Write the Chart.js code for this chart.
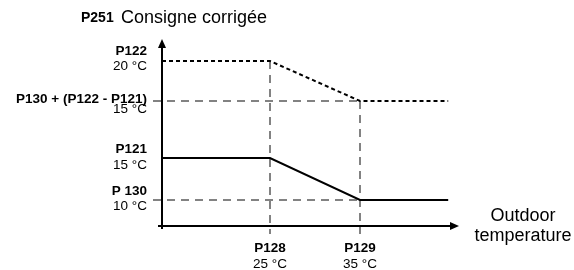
<!DOCTYPE html>
<html>
<head>
<meta charset="utf-8">
<script src="https://cdn.jsdelivr.net/npm/chart.js@4/dist/chart.umd.min.js"></script>
<style>
  body { margin: 0; background: #fff; }
  #wrap { width: 574px; height: 270px; position: relative; }
</style>
</head>
<body>
<div id="wrap"><canvas id="myChart"></canvas></div>
<script>
// outdoor temperature (°C) along x, schematic height along y
const outdoorTemps = [13, 25, 35, 44.8];
const correctedSetpoint = [165, 165, 125, 125];   // P251 dotted curve
const baseSetpoint = [68, 68, 26, 26];            // solid curve

const xMarks = [25, 35];
const xMarkNames = ['P128', 'P129'];
const xMarkTemps = ['25 °C', '35 °C'];

const yMarks = [165, 125, 68, 26];
const yMarkNames = ['P122', 'P130 + (P122 - P121)', 'P121', 'P 130'];
const yMarkTemps = ['20 °C', '15 °C', '15 °C', '10 °C'];

const xMin = 13, xMax = 46;
const yMin = 0, yMax = 187;

const FONT = 'Liberation Sans, Arial, sans-serif';
const guideColor = '#5a5a5a';

const toPoints = (xs, ys) => xs.map((x, i) => ({x: x, y: ys[i]}));

// dashed guide lines
const guides = [
    [{x: 12, y: 125}, {x: 35, y: 125}],
    [{x: 12, y: 26}, {x: 35, y: 26}],
    [{x: 25, y: 165}, {x: 25, y: -8}],
    [{x: 35, y: 125}, {x: 35, y: -8}]
];

const guideSets = guides.map(pts => ({
    data: pts,
    borderColor: guideColor,
    borderWidth: 1.5,
    borderDash: [8, 6],
    pointRadius: 0,
    clip: false,
    order: 3
}));

// axes with arrows + text labels
const diagram = {
    id: 'diagram',
    afterDatasetsDraw(chart) {
        const ctx = chart.ctx;
        const xs = chart.scales.x, ys = chart.scales.y;
        const x0 = xs.getPixelForValue(xMin), x1 = xs.getPixelForValue(xMax);
        const y0 = ys.getPixelForValue(yMin), y1 = ys.getPixelForValue(yMax);
        ctx.save();
        ctx.strokeStyle = '#000';
        ctx.fillStyle = '#000';
        ctx.lineWidth = 2;
        ctx.beginPath();
        ctx.moveTo(x0, y0 + 3);
        ctx.lineTo(x0, y1 + 6);
        ctx.moveTo(x0 - 4, y0);
        ctx.lineTo(x1 - 6, y0);
        ctx.stroke();
        // arrowheads
        ctx.beginPath();
        ctx.moveTo(x0, y1);
        ctx.lineTo(x0 - 4, y1 + 9);
        ctx.lineTo(x0 + 4, y1 + 9);
        ctx.closePath();
        ctx.fill();
        ctx.beginPath();
        ctx.moveTo(x1, y0);
        ctx.lineTo(x1 - 9, y0 - 4);
        ctx.lineTo(x1 - 9, y0 + 4);
        ctx.closePath();
        ctx.fill();

        ctx.fillStyle = '#000';
        ctx.textBaseline = 'middle';
        // y labels
        const nameOff = [-10, -2, -9, -9];
        const tempOff = [5, 8, 7, 6];
        ctx.textAlign = 'right';
        yMarks.forEach((v, i) => {
            const py = ys.getPixelForValue(v);
            ctx.font = 'bold 13.5px ' + FONT;
            ctx.fillText(yMarkNames[i], x0 - 15, py + nameOff[i]);
            ctx.font = '13.5px ' + FONT;
            ctx.fillText(yMarkTemps[i], x0 - 15, py + tempOff[i]);
        });
        // x labels
        ctx.textAlign = 'center';
        xMarks.forEach((v, i) => {
            const px = xs.getPixelForValue(v);
            ctx.font = 'bold 13.5px ' + FONT;
            ctx.fillText(xMarkNames[i], px, 248);
            ctx.font = '13.5px ' + FONT;
            ctx.fillText(xMarkTemps[i], px, 264);
        });
        // axis titles
        ctx.font = '18px ' + FONT;
        ctx.fillText('Outdoor', 523, 216);
        ctx.fillText('temperature', 523, 236);
        ctx.textAlign = 'left';
        ctx.textBaseline = 'alphabetic';
        ctx.font = 'bold 14px ' + FONT;
        ctx.fillText('P251', 81, 22);
        ctx.font = '18px ' + FONT;
        ctx.fillText('Consigne corrigée', 121, 23);
        ctx.restore();
    }
};

const config = {
    type: 'line',
    data: {
        datasets: [
            ...guideSets,
            {
                label: 'P251 Consigne corrigée',
                data: toPoints(outdoorTemps, correctedSetpoint),
                borderColor: '#000',
                borderWidth: 2,
                borderDash: [4, 3],
                pointRadius: 0,
                clip: false,
                order: 1
            },
            {
                label: 'Consigne',
                data: toPoints(outdoorTemps, baseSetpoint),
                borderColor: '#000',
                borderWidth: 2,
                pointRadius: 0,
                clip: false,
                order: 2
            }
        ]
    },
    options: {
        responsive: true,
        maintainAspectRatio: false,
        animation: false,
        layout: { padding: { left: 162, right: 115, top: 39, bottom: 44 } },
        plugins: { legend: { display: false }, tooltip: { enabled: false } },
        scales: {
            x: { type: 'linear', min: xMin, max: xMax, display: false },
            y: { type: 'linear', min: yMin, max: yMax, display: false }
        }
    },
    plugins: [diagram]
};

// Render the chart
const myChart = new Chart(document.getElementById('myChart'), config);
</script>
</body>
</html>
